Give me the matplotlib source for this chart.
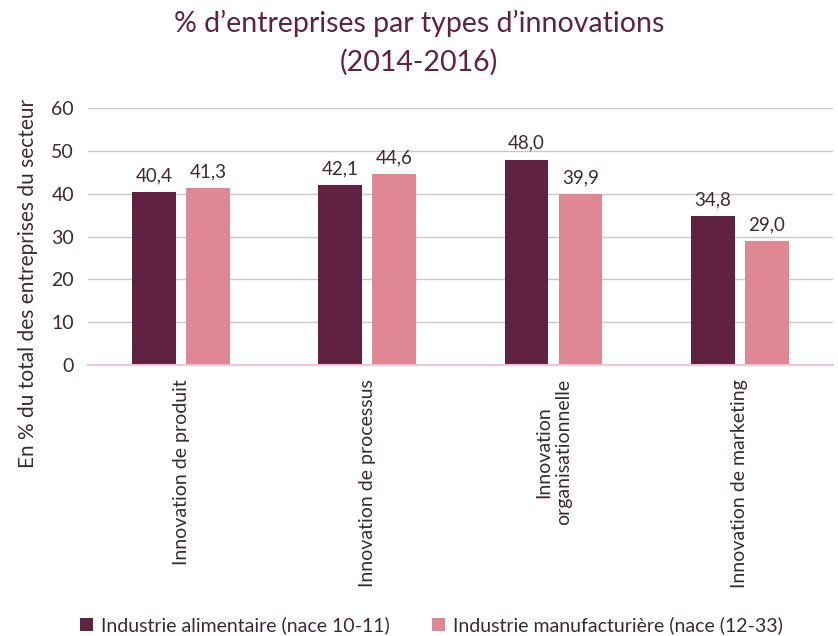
import matplotlib
matplotlib.use("Agg")
import matplotlib.pyplot as plt
import numpy as np

categories = ["Innovation de produit", "Innovation de processus",
              "Innovation\norganisationnelle", "Innovation de marketing"]
series_names = ["Industrie alimentaire (nace 10-11)",
                "Industrie manufacturière (nace (12-33)"]
alimentaire = [40.4, 42.1, 48.0, 34.8]
manufacturiere = [41.3, 44.6, 39.9, 29.0]
yticks = [0, 10, 20, 30, 40, 50, 60]

plt.rcParams['font.family'] = ['Lato', 'DejaVu Sans']
c1 = "#612141"
c2 = "#E08794"
txt = "#3a2a33"

fig = plt.figure(figsize=(8.38, 6.36), dpi=100)
ax = fig.add_axes([0.105, 0.426, 0.889, 0.404])

x = np.arange(len(categories)) + 0.5
w = 0.235
off = 0.145
b1 = ax.bar(x - off, alimentaire, w, color=c1, label=series_names[0], zorder=3)
b2 = ax.bar(x + off, manufacturiere, w, color=c2, label=series_names[1], zorder=3)

for bars, vals in ((b1, alimentaire), (b2, manufacturiere)):
    for r, v in zip(bars, vals):
        ax.text(r.get_x() + r.get_width() / 2, v + 1.8, f"{v:.1f}".replace(".", ","),
                ha="center", va="bottom", fontsize=13.5, color=txt)

ax.set_xlim(0, 4)
ax.set_ylim(0, 60)
ax.set_yticks(yticks)
ax.set_yticklabels([str(t) for t in yticks], fontsize=14, color=txt)
ax.set_xticks(x)
ax.set_xticklabels(categories, rotation=90, fontsize=14, color=txt, va="top", ha="center",
                   multialignment="center")
ax.tick_params(axis="y", length=0, pad=10)
ax.tick_params(axis="x", length=0, pad=10)
ax.grid(axis="y", color="#c8c8c8", linewidth=1, zorder=0)
for s in ["top", "right", "left"]:
    ax.spines[s].set_visible(False)
ax.spines["bottom"].set_color("#f0c6d6")
ax.spines["bottom"].set_linewidth(1.5)
ax.spines["bottom"].set_zorder(4)

fig.text(0.5, 0.985, "% d’entreprises par types d’innovations\n(2014-2016)",
         ha="center", va="top", fontsize=20.5, color=c1, linespacing=1.55)
fig.text(0.034, 0.555, "En % du total des entreprises du secteur", rotation=90,
         ha="center", va="center", fontsize=15, color=txt)

fig.legend(handles=[b1, b2], labels=series_names, loc="lower center",
           bbox_to_anchor=(0.515, -0.025), ncol=2, frameon=False, fontsize=14,
           handlelength=0.65, handleheight=0.65, handletextpad=0.4, columnspacing=2.2,
           labelcolor=txt)

fig.savefig("out.png", dpi=100)
